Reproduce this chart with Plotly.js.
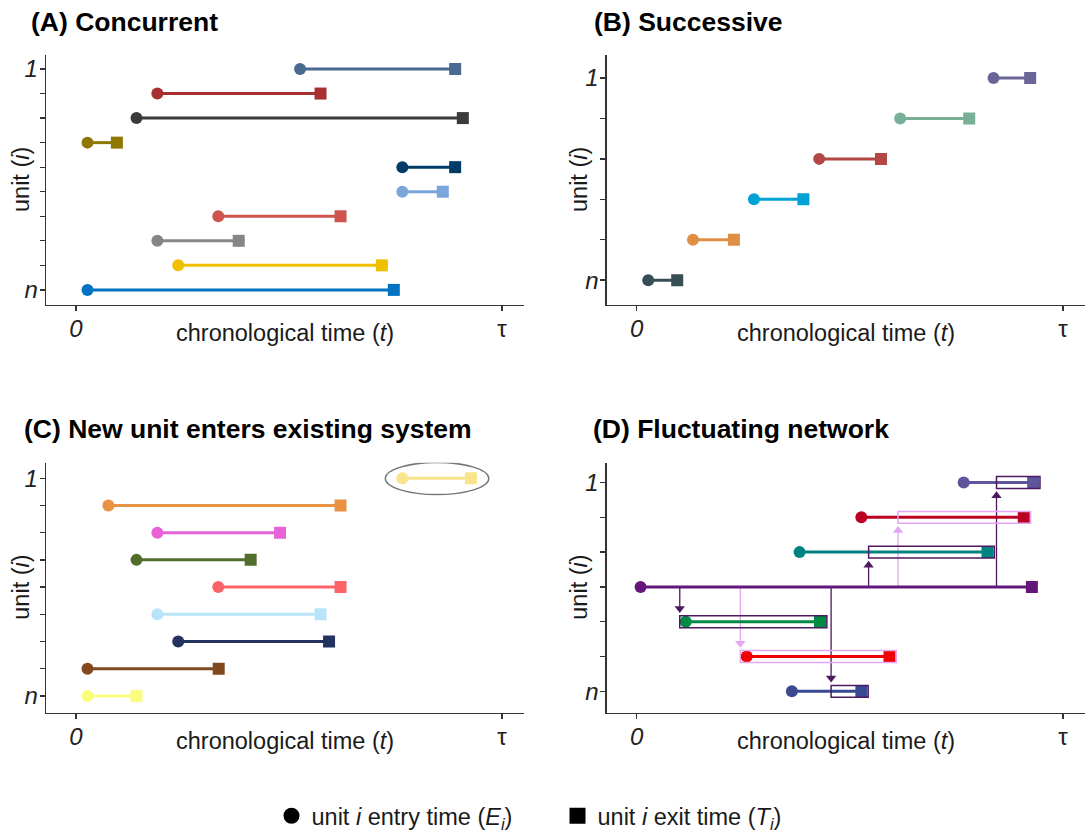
<!DOCTYPE html>
<html>
<head>
<meta charset="utf-8">
<script src="https://cdn.plot.ly/plotly-3.0.1.min.js"></script>
<style>
  html, body { margin: 0; padding: 0; background: #ffffff; }
  #chart { width: 1085px; height: 838px; }
</style>
</head>
<body>
<div id="chart"></div>
<script>
// ---- time axis (0 .. tau) ----
const timeTickVals = [0, 10];
const timeTickText = ['<i>0</i>', 'τ'];

// ---- (A) Concurrent: unit 1 (top) .. unit n (bottom) ----
const concurrentEntry  = [5.26, 1.91, 1.42, 0.27, 7.66, 7.66, 3.34, 1.91, 2.40, 0.27];
const concurrentExit   = [8.90, 5.74, 9.08, 0.96, 8.90, 8.61, 6.21, 3.82, 7.18, 7.46];
const concurrentColors = ['#4A6990', '#A73030', '#3B3B3B', '#8F7700', '#003C67',
                          '#7AA6DC', '#CD534C', '#868686', '#EFC000', '#0073C2'];

// ---- (B) Successive ----
const successiveEntry  = [8.37, 6.18, 4.28, 2.75, 1.32, 0.27];
const successiveExit   = [9.23, 7.80, 5.73, 3.91, 2.28, 0.95];
const successiveColors = ['#6A6599', '#79AF97', '#B24745', '#00A1D5', '#DF8F44', '#374E55'];

// ---- (C) New unit enters existing system ----
const newUnitEntry  = [7.66, 0.76, 1.91, 1.42, 3.34, 1.91, 2.40, 0.27, 0.27];
const newUnitExit   = [9.27, 6.21, 4.79, 4.10, 6.21, 5.74, 5.94, 3.35, 1.42];
const newUnitColors = ['#FAE48B', '#E89242', '#E762D7', '#526E2D', '#FB6467',
                       '#B7E4F9', '#24325F', '#82491E', '#FAFD7C'];
const highlightedUnit = 1;

// ---- (D) Fluctuating network ----
const networkEntry  = [7.67, 5.27, 3.82, 0.09, 1.15, 2.58, 3.64];
const networkExit   = [9.30, 9.08, 8.23, 9.27, 4.30, 5.93, 5.27];
const networkColors = ['#5F559B', '#BB0021', '#008280', '#631879', '#008B45', '#EE0000', '#3B4992'];
const hubUnit   = 4;
const moveTarget = [5, 6, 7, 3, 2, 1];
const moveTime   = [1.01, 2.43, 4.56, 5.44, 6.13, 8.44];
const moveColor  = ['#4B1A5F', '#E4A6F2', '#4B1A5F', '#4B1A5F', '#E4A6F2', '#4B1A5F'];

// ---- layout geometry ----
const W = 1085, H = 838;
const FONT = 'Liberation Sans, Arial, Helvetica, sans-serif';
const AXIS_COLOR = '#333333';
const TICK_TEXT = '#222222';
const xRange = [-0.704, 10.516];
const colLeft  = [46 / W, 524 / W];
const colRight = [606.7 / W, 1];
const rowTop    = [1 - 305 / H, 1 - 55 / H];
const rowBottom = [1 - 712.7 / H, 1 - 462.7 / H];
const PLOT_H = 250;   // plot height in px, used for marker offsets in data units

function unitRange(n) { return [n + 0.615, 0.43]; }

function xAxis(domain, anchor) {
  return {
    domain: domain, anchor: anchor, range: xRange,
    showline: true, linecolor: AXIS_COLOR, linewidth: 1.3,
    ticks: 'outside', ticklen: 5, tickwidth: 1.3, tickcolor: AXIS_COLOR,
    tickvals: timeTickVals, ticktext: timeTickText, ticklabelstandoff: -3,
    tickfont: { family: FONT, size: 24, color: TICK_TEXT },
    showgrid: false, zeroline: false, fixedrange: true
  };
}

function yAxis(domain, anchor, n) {
  const units = [];
  for (let u = 1; u <= n; u++) units.push(u);
  return {
    domain: domain, anchor: anchor, range: unitRange(n),
    showline: true, linecolor: AXIS_COLOR, linewidth: 1.3,
    ticks: 'outside', ticklen: 5, tickwidth: 1.3, tickcolor: AXIS_COLOR,
    tickvals: [1, n], ticktext: ['<i>1</i>', '<i>n</i>'], ticklabelstandoff: -3,
    minor: { tickmode: 'array', tickvals: units, ticks: 'outside', ticklen: 5,
             tickwidth: 1.3, tickcolor: AXIS_COLOR, showgrid: false },
    tickfont: { family: FONT, size: 24, color: TICK_TEXT },
    showgrid: false, zeroline: false, fixedrange: true
  };
}

const traces = [];

function addUnits(entry, exit, colors, xa, ya) {
  for (let i = 0; i < entry.length; i++) {
    traces.push({
      type: 'scatter', mode: 'lines+markers',
      x: [entry[i], exit[i]], y: [i + 1, i + 1],
      xaxis: xa, yaxis: ya,
      line: { color: colors[i], width: 3 },
      marker: { color: colors[i], symbol: ['circle', 'square'], size: [12, 12],
                opacity: 1, line: { width: 0 } },
      showlegend: false, hoverinfo: 'skip'
    });
  }
}

// arrows from the hub unit to each unit it hands over to (panel D), drawn beneath the units
const dUnits = networkEntry.length;
const dPxPerUnit = PLOT_H / (unitRange(dUnits)[0] - unitRange(dUnits)[1]);
const shapes = [];
for (let k = 0; k < moveTarget.length; k++) {
  const dest = moveTarget[k];
  const dir = dest > hubUnit ? 1 : -1;           // +1 = downwards on screen
  const tip = dest - dir * 0.25;
  const headR = 4.5 / dPxPerUnit;
  traces.push({
    type: 'scatter', mode: 'lines',
    x: [moveTime[k], moveTime[k]], y: [hubUnit, tip - dir * headR],
    xaxis: 'x4', yaxis: 'y4',
    line: { color: moveColor[k], width: 1.3 },
    showlegend: false, hoverinfo: 'skip'
  });
  traces.push({
    type: 'scatter', mode: 'markers',
    x: [moveTime[k]], y: [tip - dir * headR],
    xaxis: 'x4', yaxis: 'y4',
    marker: { symbol: dir > 0 ? 'triangle-down' : 'triangle-up', size: 9, color: moveColor[k],
              opacity: 1, line: { width: 0 } },
    showlegend: false, hoverinfo: 'skip'
  });
  shapes.push({
    type: 'rect', xref: 'x4', yref: 'y4',
    x0: moveTime[k], x1: networkExit[dest - 1] + 0.16,
    y0: dest - 0.17, y1: dest + 0.17,
    line: { color: moveColor[k], width: 1.5 }, fillcolor: 'rgba(0,0,0,0)'
  });
}

addUnits(concurrentEntry, concurrentExit, concurrentColors, 'x', 'y');
addUnits(successiveEntry, successiveExit, successiveColors, 'x2', 'y2');
addUnits(newUnitEntry, newUnitExit, newUnitColors, 'x3', 'y3');
addUnits(networkEntry, networkExit, networkColors, 'x4', 'y4');

// ring around the newly entering unit (panel C)
shapes.push({
  type: 'circle', xref: 'x3', yref: 'y3',
  x0: newUnitEntry[highlightedUnit - 1] - 0.40, x1: newUnitExit[highlightedUnit - 1] + 0.42,
  y0: highlightedUnit - 0.58, y1: highlightedUnit + 0.60,
  line: { color: '#777777', width: 1.4 }, fillcolor: 'rgba(0,0,0,0)'
});

// legend entries
traces.push({
  type: 'scatter', mode: 'markers', x: [null], y: [null], xaxis: 'x', yaxis: 'y',
  name: 'unit <i>i</i> entry time (<i>E<sub>i</sub></i>)',
  marker: { symbol: 'circle', size: 16, color: '#000000', opacity: 1 }, showlegend: true
});
traces.push({
  type: 'scatter', mode: 'markers', x: [null], y: [null], xaxis: 'x', yaxis: 'y',
  name: 'unit <i>i</i> exit time (<i>T<sub>i</sub></i>)',
  marker: { symbol: 'square', size: 16, color: '#000000', opacity: 1 }, showlegend: true
});

function paperX(px) { return px / W; }
function paperY(py) { return 1 - py / H; }

const panelTitles = ['(A) Concurrent', '(B) Successive', '(C) New unit enters existing system', '(D) Fluctuating network'];
const titlePos = [[29, 22], [592, 22], [22, 429], [591, 429]];
const annotations = [];
panelTitles.forEach((t, i) => {
  annotations.push({
    text: '<b>' + t + '</b>', xref: 'paper', yref: 'paper',
    x: paperX(titlePos[i][0]), y: paperY(titlePos[i][1]),
    xanchor: 'left', yanchor: 'middle', showarrow: false,
    font: { family: FONT, size: 26.5, color: '#000000' }
  });
});

const xTitleText = 'chronological time (<i>t</i>)';
const yTitleText = 'unit (<i>i</i>)';
[[colLeft, 333], [colRight, 333], [colLeft, 741], [colRight, 741]].forEach(([dom, py]) => {
  annotations.push({
    text: xTitleText, xref: 'paper', yref: 'paper',
    x: (dom[0] + dom[1]) / 2, y: paperY(py),
    xanchor: 'center', yanchor: 'middle', showarrow: false,
    font: { family: FONT, size: 23.5, color: '#1a1a1a' }
  });
});
[[21, rowTop], [579, rowTop], [21, rowBottom], [579, rowBottom]].forEach(([px, dom]) => {
  annotations.push({
    text: yTitleText, xref: 'paper', yref: 'paper',
    x: paperX(px), y: (dom[0] + dom[1]) / 2, textangle: -90,
    xanchor: 'center', yanchor: 'middle', showarrow: false,
    font: { family: FONT, size: 23.5, color: '#1a1a1a' }
  });
});

const layout = {
  width: W, height: H,
  margin: { l: 0, r: 0, t: 0, b: 0 },
  paper_bgcolor: '#ffffff', plot_bgcolor: '#ffffff',
  font: { family: FONT, color: '#000000' },
  showlegend: true,
  legend: {
    orientation: 'h', x: paperX(557.5), xanchor: 'center', y: 0, yanchor: 'bottom',
    font: { family: FONT, size: 23.5, color: '#1a1a1a' },
    entrywidth: 241, entrywidthmode: 'pixels', bgcolor: 'rgba(0,0,0,0)'
  },
  xaxis: xAxis(colLeft, 'y'),   yaxis: yAxis(rowTop, 'x', concurrentEntry.length),
  xaxis2: xAxis(colRight, 'y2'), yaxis2: yAxis(rowTop, 'x2', successiveEntry.length),
  xaxis3: xAxis(colLeft, 'y3'),  yaxis3: yAxis(rowBottom, 'x3', newUnitEntry.length),
  xaxis4: xAxis(colRight, 'y4'), yaxis4: yAxis(rowBottom, 'x4', networkEntry.length),
  shapes: shapes,
  annotations: annotations
};

Plotly.newPlot('chart', traces, layout, { displayModeBar: false, staticPlot: true });
</script>
</body>
</html>
